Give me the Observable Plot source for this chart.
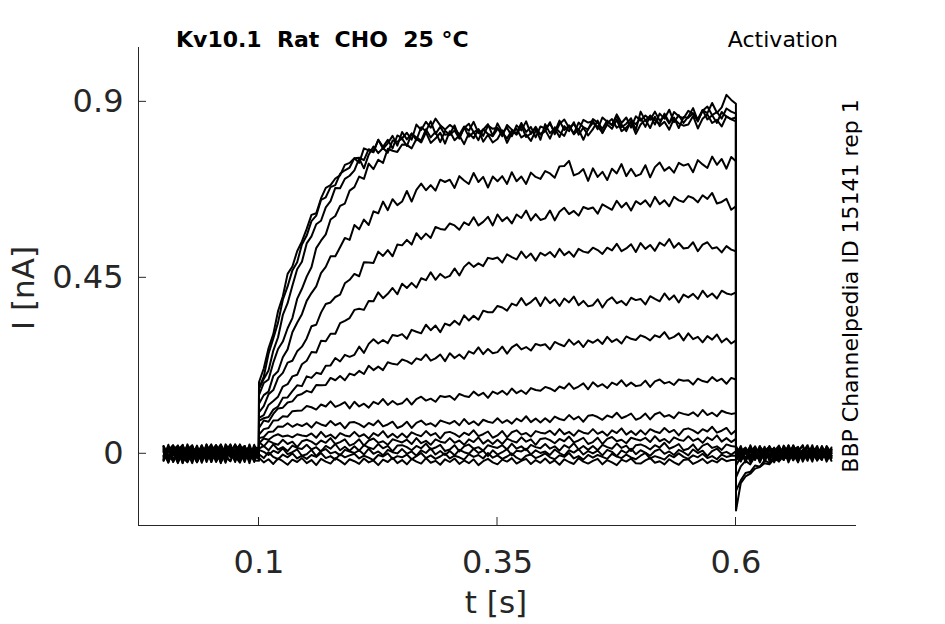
<!DOCTYPE html>
<html><head><meta charset="utf-8">
<script src="https://cdn.jsdelivr.net/npm/d3@7"></script>
<script src="https://cdn.jsdelivr.net/npm/@observablehq/plot@0.6"></script>
<style>body{margin:0;background:#fff;} svg{display:block}</style>
</head><body><div id="chart"></div>
<script>
// time grid (s): baseline (21), step 0.1–0.6 (101), tail (21)
const t = [0,0.005,0.01,0.015,0.02,0.025,0.03,0.035,0.04,0.045,0.05,0.055,0.06,0.065,0.07,0.075,0.08,0.085,0.09,0.095,0.0999,
0.1,0.105,0.11,0.115,0.12,0.125,0.13,0.135,0.14,0.145,
0.15,0.155,0.16,0.165,0.17,0.175,0.18,0.185,0.19,0.195,
0.2,0.205,0.21,0.215,0.22,0.225,0.23,0.235,0.24,0.245,
0.25,0.255,0.26,0.265,0.27,0.275,0.28,0.285,0.29,0.295,
0.3,0.305,0.31,0.315,0.32,0.325,0.33,0.335,0.34,0.345,
0.35,0.355,0.36,0.365,0.37,0.375,0.38,0.385,0.39,0.395,
0.4,0.405,0.41,0.415,0.42,0.425,0.43,0.435,0.44,0.445,
0.45,0.455,0.46,0.465,0.47,0.475,0.48,0.485,0.49,0.495,
0.5,0.505,0.51,0.515,0.52,0.525,0.53,0.535,0.54,0.545,
0.55,0.555,0.56,0.565,0.57,0.575,0.58,0.585,0.59,0.595,0.5999,
0.6,0.605,0.61,0.615,0.62,0.625,0.63,0.635,0.64,0.645,0.65,0.655,0.66,0.665,0.67,0.675,0.68,0.685,0.69,0.695,0.7];

// currents (nA), one array per voltage step: baseline | step | tail
const iA1 = [0.012,-0.018,0.006,0.021,-0.009,-0.022,0.003,0.015,-0.013,0.024,-0.004,0.009,-0.02,0.017,0.001,-0.015,0.011,0.02,-0.007,0.004,0.002,
0.183,0.218,0.27,0.306,0.365,0.403,0.46,0.479,0.518,0.543,
0.575,0.611,0.615,0.653,0.68,0.687,0.704,0.712,0.739,0.744,
0.756,0.744,0.781,0.776,0.771,0.803,0.785,0.803,0.781,0.814,
0.807,0.821,0.803,0.842,0.828,0.849,0.834,0.857,0.84,0.829,
0.841,0.832,0.816,0.837,0.826,0.849,0.82,0.829,0.843,0.813,
0.845,0.822,0.834,0.812,0.84,0.827,0.85,0.818,0.836,0.816,
0.825,0.848,0.817,0.843,0.855,0.834,0.843,0.827,0.854,0.847,
0.851,0.83,0.86,0.849,0.84,0.868,0.846,0.86,0.834,0.863,
0.852,0.865,0.854,0.875,0.852,0.864,0.845,0.874,0.863,0.858,
0.877,0.87,0.856,0.879,0.871,0.897,0.872,0.886,0.918,0.905,0.895,
-0.145,-0.075,-0.058,-0.051,-0.038,-0.034,-0.024,-0.027,-0.013,-0.019,-0.006,-0.014,0.003,-0.009,0.008,-0.004,0.011,-0.007,0.004,-0.012,0.006];
const iA2 = [-0.015,0.019,-0.004,0.008,-0.023,0.011,0.022,-0.012,0.002,-0.008,0.016,-0.019,0.009,-0.001,0.024,-0.01,0.005,-0.021,0.013,-0.003,-0.006,
0.168,0.197,0.256,0.295,0.336,0.394,0.428,0.469,0.49,0.535,
0.558,0.595,0.609,0.649,0.656,0.682,0.687,0.716,0.725,0.732,
0.756,0.757,0.751,0.779,0.774,0.803,0.78,0.794,0.813,0.788,
0.823,0.804,0.819,0.802,0.835,0.825,0.85,0.818,0.836,0.816,
0.818,0.84,0.808,0.833,0.844,0.822,0.83,0.813,0.839,0.831,
0.834,0.812,0.841,0.829,0.819,0.846,0.823,0.836,0.809,0.837,
0.832,0.844,0.823,0.852,0.828,0.839,0.819,0.847,0.835,0.829,
0.856,0.847,0.831,0.852,0.841,0.864,0.835,0.844,0.858,0.828,
0.875,0.852,0.864,0.842,0.87,0.857,0.88,0.848,0.866,0.846,
0.862,0.884,0.852,0.877,0.888,0.866,0.874,0.857,0.883,0.875,0.87,
-0.095,-0.068,-0.049,-0.046,-0.03,-0.033,-0.017,-0.023,-0.006,-0.015,0.002,-0.011,0.009,-0.005,-0.012,0.007,-0.003,0.012,-0.008,0.002,-0.005];
const iB = [0.018,-0.006,0.004,-0.024,0.013,-0.002,0.02,-0.016,-0.005,0.017,-0.021,0.007,0.014,-0.011,0.003,0.023,-0.017,0.001,-0.008,0.019,0.01,
0.166,0.191,0.213,0.264,0.298,0.355,0.385,0.43,0.472,0.491,
0.538,0.556,0.587,0.596,0.63,0.646,0.68,0.679,0.703,0.711,
0.725,0.755,0.73,0.765,0.786,0.769,0.782,0.77,0.801,0.798,
0.806,0.787,0.819,0.809,0.801,0.83,0.809,0.823,0.797,0.826,
0.815,0.827,0.806,0.835,0.811,0.822,0.802,0.83,0.818,0.812,
0.831,0.822,0.806,0.827,0.816,0.839,0.81,0.819,0.833,0.803,
0.843,0.82,0.832,0.81,0.838,0.825,0.848,0.816,0.834,0.814,
0.83,0.852,0.82,0.845,0.856,0.834,0.842,0.825,0.851,0.843,
0.858,0.836,0.865,0.853,0.843,0.87,0.847,0.86,0.833,0.861,
0.859,0.871,0.85,0.879,0.855,0.866,0.846,0.874,0.862,0.856,0.86,
-0.06,-0.032,-0.018,-0.027,-0.006,-0.015,0.004,-0.011,0.009,-0.004,-0.013,0.006,-0.008,0.012,-0.002,0.007,-0.014,0.003,0.01,-0.006,0.001];
const iC = [-0.004,0.014,-0.02,0.009,0.023,-0.012,0.002,-0.022,0.016,0.006,-0.009,0.021,-0.017,0.012,-0.002,0.008,0.022,-0.014,0.004,-0.018,0.005,
0.15,0.181,0.19,0.233,0.268,0.287,0.321,0.347,0.396,0.422,
0.453,0.477,0.526,0.545,0.561,0.599,0.608,0.634,0.64,0.673,
0.682,0.709,0.703,0.742,0.728,0.752,0.744,0.78,0.775,0.772,
0.791,0.79,0.781,0.805,0.796,0.822,0.795,0.806,0.821,0.793,
0.825,0.802,0.814,0.792,0.82,0.807,0.83,0.798,0.816,0.796,
0.805,0.827,0.795,0.82,0.831,0.809,0.817,0.8,0.826,0.818,
0.828,0.806,0.835,0.823,0.813,0.84,0.817,0.83,0.803,0.831,
0.846,0.837,0.821,0.842,0.831,0.854,0.825,0.834,0.848,0.818,
0.842,0.854,0.833,0.862,0.838,0.849,0.829,0.857,0.845,0.839,
0.842,0.864,0.832,0.857,0.868,0.846,0.854,0.837,0.863,0.855,0.85,
-0.03,-0.008,0.004,-0.014,0.009,-0.006,0.013,-0.011,0.002,0.015,-0.009,0.005,-0.016,0.008,0.001,-0.012,0.014,-0.004,0.006,-0.01,0.011];
const iD = [0.008,-0.019,0.012,0.02,-0.011,0.004,-0.024,0.014,-0.003,0.018,0.006,-0.013,0.022,-0.007,0.01,-0.021,0.016,0.0,-0.015,0.023,-0.008,
0.128,0.15,0.159,0.199,0.211,0.247,0.267,0.311,0.335,0.357,
0.391,0.411,0.428,0.462,0.478,0.505,0.505,0.528,0.552,0.547,
0.585,0.574,0.599,0.585,0.62,0.615,0.645,0.623,0.651,0.636,
0.645,0.672,0.645,0.675,0.691,0.674,0.687,0.673,0.701,0.695,
0.701,0.68,0.71,0.699,0.69,0.718,0.695,0.708,0.681,0.709,
0.697,0.71,0.69,0.72,0.697,0.709,0.69,0.719,0.708,0.703,
0.723,0.717,0.706,0.735,0.736,0.749,0.712,0.717,0.728,0.698,
0.73,0.708,0.721,0.7,0.729,0.717,0.741,0.71,0.729,0.71,
0.715,0.738,0.707,0.733,0.745,0.724,0.733,0.719,0.744,0.737,
0.741,0.72,0.751,0.74,0.731,0.76,0.739,0.754,0.729,0.759,0.748,
0.008,-0.016,0.013,-0.005,0.019,-0.012,0.003,0.016,-0.018,0.009,-0.002,0.021,-0.01,0.005,-0.014,0.018,0.0,-0.008,0.012,-0.02,0.004];
const iE = [-0.014,0.006,0.022,-0.009,0.016,-0.02,0.01,-0.002,0.019,-0.012,0.004,0.015,-0.022,0.008,0.018,-0.006,0.002,-0.017,0.024,-0.011,0.003,
0.106,0.122,0.152,0.163,0.194,0.207,0.233,0.238,0.262,0.274,
0.295,0.326,0.33,0.361,0.383,0.387,0.401,0.407,0.436,0.445,
0.46,0.454,0.49,0.489,0.488,0.517,0.506,0.521,0.505,0.535,
0.533,0.547,0.535,0.564,0.549,0.563,0.552,0.58,0.575,0.573,
0.589,0.584,0.573,0.592,0.585,0.605,0.584,0.593,0.606,0.584,
0.612,0.595,0.605,0.589,0.612,0.603,0.622,0.597,0.613,0.598,
0.602,0.622,0.597,0.619,0.629,0.613,0.621,0.609,0.631,0.626,
0.63,0.614,0.638,0.631,0.624,0.647,0.63,0.642,0.622,0.646,
0.638,0.648,0.632,0.657,0.638,0.648,0.633,0.657,0.648,0.644,
0.659,0.654,0.643,0.661,0.652,0.667,0.64,0.644,0.652,0.624,0.633,
-0.012,0.01,-0.019,0.015,0.002,-0.008,0.018,-0.014,0.006,0.021,-0.004,0.011,-0.017,0.008,0.019,-0.01,0.004,-0.016,0.014,0.0,-0.006];
const iF = [0.02,-0.007,-0.017,0.012,-0.004,0.018,0.008,-0.021,0.006,0.016,-0.012,0.0,0.022,-0.009,-0.019,0.01,0.004,0.02,-0.014,0.008,-0.012,
0.092,0.099,0.125,0.135,0.146,0.172,0.178,0.198,0.202,0.229,
0.238,0.26,0.259,0.289,0.288,0.307,0.307,0.334,0.34,0.347,
0.368,0.371,0.368,0.391,0.39,0.413,0.398,0.409,0.424,0.408,
0.435,0.424,0.437,0.425,0.449,0.444,0.464,0.445,0.46,0.45,
0.455,0.474,0.456,0.478,0.489,0.478,0.487,0.48,0.501,0.498,
0.502,0.489,0.51,0.503,0.497,0.517,0.501,0.512,0.494,0.514,
0.507,0.516,0.503,0.524,0.508,0.517,0.504,0.524,0.517,0.514,
0.527,0.521,0.511,0.527,0.52,0.537,0.518,0.525,0.536,0.516,
0.539,0.524,0.534,0.519,0.54,0.532,0.549,0.527,0.539,0.525,
0.527,0.541,0.518,0.535,0.541,0.525,0.528,0.515,0.531,0.522,0.518,
0.017,-0.004,0.012,-0.021,0.006,0.014,-0.01,0.02,-0.002,0.008,-0.016,0.004,0.018,-0.012,0.01,-0.006,0.022,-0.018,0.002,0.012,-0.008];
const iG = [-0.008,0.016,0.004,-0.019,0.022,-0.011,0.0,0.013,-0.023,0.009,0.018,-0.005,-0.015,0.024,0.006,-0.013,0.017,-0.002,0.011,-0.021,0.014,
0.084,0.091,0.094,0.113,0.121,0.143,0.144,0.16,0.175,0.173,
0.198,0.194,0.207,0.204,0.225,0.226,0.245,0.236,0.253,0.248,
0.253,0.274,0.258,0.281,0.293,0.282,0.291,0.283,0.304,0.301,
0.306,0.294,0.317,0.312,0.308,0.33,0.316,0.328,0.311,0.333,
0.328,0.34,0.33,0.354,0.341,0.353,0.343,0.366,0.362,0.362,
0.378,0.374,0.366,0.384,0.379,0.398,0.38,0.388,0.399,0.378,
0.4,0.385,0.395,0.378,0.397,0.387,0.402,0.38,0.391,0.377,
0.38,0.395,0.374,0.392,0.4,0.385,0.391,0.38,0.399,0.393,
0.396,0.382,0.403,0.396,0.39,0.41,0.394,0.405,0.387,0.407,
0.4,0.409,0.396,0.417,0.401,0.41,0.397,0.417,0.41,0.407,0.413,
-0.006,0.02,-0.014,0.004,0.012,-0.018,0.008,-0.004,0.016,-0.012,0.021,0.0,-0.008,0.014,-0.02,0.006,0.01,-0.002,-0.016,0.018,0.002];
const iH = [0.012,-0.021,0.018,0.002,-0.015,0.024,-0.006,0.01,-0.017,0.0,0.02,-0.011,0.006,-0.023,0.014,0.004,-0.009,0.019,-0.019,0.009,0.018,
0.066,0.085,0.082,0.102,0.116,0.118,0.131,0.134,0.149,0.153,
0.161,0.157,0.176,0.175,0.176,0.194,0.188,0.199,0.188,0.205,
0.201,0.212,0.204,0.225,0.214,0.223,0.214,0.234,0.23,0.228,
0.241,0.237,0.23,0.244,0.24,0.254,0.238,0.244,0.254,0.237,
0.257,0.245,0.254,0.243,0.262,0.256,0.272,0.255,0.268,0.257,
0.26,0.274,0.256,0.272,0.28,0.267,0.273,0.264,0.281,0.277,
0.28,0.267,0.286,0.28,0.275,0.292,0.279,0.288,0.273,0.29,
0.284,0.292,0.281,0.299,0.286,0.293,0.282,0.3,0.294,0.291,
0.303,0.298,0.29,0.303,0.298,0.311,0.294,0.299,0.308,0.29,
0.308,0.293,0.299,0.285,0.301,0.292,0.305,0.285,0.295,0.282,0.29,
0.012,-0.01,0.002,0.018,-0.016,0.008,-0.006,0.014,0.004,-0.02,0.01,-0.012,0.02,-0.004,0.006,-0.014,0.016,0.008,-0.01,0.002,0.012];
const iI = [-0.018,0.008,-0.004,0.021,-0.012,0.006,0.017,-0.01,0.022,-0.006,0.012,-0.021,0.002,0.018,-0.008,0.024,-0.014,0.004,0.015,-0.002,-0.014,
0.049,0.063,0.066,0.085,0.086,0.096,0.095,0.109,0.11,0.111,
0.122,0.119,0.113,0.126,0.121,0.134,0.12,0.125,0.132,0.116,
0.133,0.121,0.128,0.118,0.133,0.127,0.14,0.125,0.135,0.126,
0.129,0.141,0.126,0.14,0.146,0.136,0.141,0.133,0.148,0.145,
0.148,0.138,0.153,0.148,0.145,0.159,0.149,0.156,0.143,0.159,
0.153,0.161,0.151,0.167,0.155,0.162,0.153,0.168,0.163,0.161,
0.171,0.167,0.16,0.172,0.167,0.18,0.166,0.172,0.18,0.165,
0.183,0.172,0.178,0.168,0.182,0.176,0.188,0.173,0.182,0.173,
0.175,0.187,0.171,0.185,0.19,0.18,0.184,0.176,0.19,0.187,
0.188,0.177,0.192,0.186,0.183,0.196,0.186,0.192,0.179,0.194,0.19,
-0.018,0.006,0.016,-0.008,0.01,-0.022,0.012,0.0,-0.014,0.018,-0.006,0.008,0.014,-0.018,0.004,0.022,-0.012,0.006,-0.004,0.016,-0.01];
const iJ = [0.006,-0.013,0.019,-0.022,0.004,0.015,-0.008,0.021,-0.015,0.011,-0.002,0.017,-0.019,0.008,0.023,-0.011,0.0,0.013,-0.024,0.019,0.0,
0.04,0.043,0.056,0.057,0.07,0.069,0.078,0.069,0.076,0.071,
0.078,0.067,0.081,0.075,0.071,0.084,0.073,0.079,0.065,0.08,
0.081,0.076,0.068,0.079,0.073,0.085,0.07,0.075,0.082,0.066,
0.071,0.082,0.066,0.079,0.085,0.074,0.078,0.07,0.085,0.081,
0.077,0.084,0.073,0.089,0.076,0.083,0.073,0.087,0.082,0.079,
0.091,0.079,0.086,0.077,0.09,0.083,0.096,0.081,0.09,0.08,
0.091,0.081,0.095,0.089,0.086,0.099,0.088,0.095,0.082,0.097,
0.099,0.094,0.087,0.098,0.093,0.105,0.091,0.096,0.103,0.087,
0.092,0.103,0.088,0.101,0.106,0.095,0.099,0.091,0.106,0.102,
0.099,0.106,0.096,0.112,0.099,0.105,0.096,0.11,0.105,0.102,0.104,
0.004,0.016,-0.012,0.008,-0.006,0.02,-0.018,0.01,0.002,-0.01,0.014,-0.022,0.006,0.016,-0.008,0.0,0.012,-0.016,0.02,-0.004,0.008];
const iK = [-0.011,0.023,-0.016,0.008,0.019,-0.006,0.012,-0.021,0.004,0.017,-0.013,0.006,0.024,-0.004,-0.019,0.01,0.021,-0.009,0.002,0.015,-0.004,
0.027,0.039,0.036,0.045,0.05,0.044,0.047,0.042,0.05,0.047,
0.045,0.052,0.041,0.056,0.043,0.049,0.039,0.053,0.047,0.044,
0.056,0.044,0.05,0.039,0.053,0.046,0.058,0.042,0.051,0.041,
0.052,0.041,0.055,0.049,0.045,0.058,0.047,0.053,0.039,0.054,
0.056,0.051,0.043,0.054,0.048,0.06,0.045,0.05,0.057,0.041,
0.047,0.058,0.042,0.055,0.06,0.049,0.053,0.044,0.058,0.054,
0.052,0.059,0.048,0.063,0.05,0.056,0.046,0.06,0.054,0.051,
0.063,0.051,0.057,0.046,0.06,0.053,0.065,0.049,0.058,0.048,
0.06,0.049,0.063,0.057,0.053,0.066,0.055,0.061,0.047,0.062,
0.065,0.06,0.052,0.063,0.057,0.069,0.054,0.059,0.066,0.05,0.06,
-0.008,-0.02,0.01,0.004,0.018,-0.012,0.002,0.014,-0.006,0.008,-0.016,0.022,-0.004,0.01,-0.014,0.006,-0.02,0.016,0.0,0.012,-0.012];
const iL = [0.015,-0.004,0.011,-0.019,-0.002,0.021,-0.015,0.006,0.013,-0.021,0.008,0.022,-0.011,0.0,0.017,-0.006,-0.023,0.012,0.004,-0.013,0.008,
0.03,0.019,0.033,0.027,0.023,0.036,0.025,0.031,0.017,0.032,
0.036,0.031,0.023,0.034,0.028,0.04,0.025,0.03,0.037,0.021,
0.026,0.037,0.021,0.034,0.039,0.028,0.032,0.023,0.037,0.033,
0.029,0.036,0.025,0.04,0.027,0.033,0.023,0.037,0.031,0.028,
0.04,0.028,0.034,0.023,0.037,0.03,0.042,0.026,0.035,0.025,
0.036,0.025,0.039,0.033,0.029,0.042,0.031,0.037,0.023,0.038,
0.04,0.035,0.027,0.038,0.032,0.044,0.029,0.034,0.041,0.025,
0.03,0.041,0.025,0.038,0.043,0.032,0.036,0.027,0.041,0.037,
0.034,0.041,0.03,0.045,0.032,0.038,0.028,0.042,0.036,0.033,
0.045,0.033,0.039,0.028,0.042,0.035,0.047,0.031,0.04,0.03,0.038,
0.014,0.0,-0.016,0.022,-0.008,0.006,0.012,-0.018,0.01,-0.004,0.018,-0.012,0.002,-0.022,0.008,0.016,-0.006,0.004,-0.014,0.02,0.0];
const iM = [-0.017,0.01,0.021,-0.008,0.006,-0.019,0.018,0.002,-0.012,0.023,-0.004,0.013,-0.021,0.008,0.015,-0.011,0.024,-0.002,-0.017,0.006,-0.002,
0.013,0.02,0.009,0.024,0.011,0.017,0.007,0.021,0.015,0.012,
0.023,0.011,0.017,0.006,0.02,0.013,0.025,0.009,0.018,0.008,
0.019,0.008,0.022,0.016,0.012,0.025,0.014,0.02,0.006,0.021,
0.022,0.017,0.009,0.02,0.014,0.026,0.011,0.016,0.023,0.007,
0.011,0.022,0.006,0.019,0.024,0.013,0.017,0.008,0.022,0.018,
0.015,0.022,0.011,0.026,0.013,0.019,0.009,0.023,0.017,0.014,
0.025,0.013,0.019,0.008,0.022,0.015,0.027,0.011,0.02,0.01,
0.02,0.009,0.023,0.017,0.013,0.026,0.015,0.021,0.007,0.022,
0.024,0.019,0.011,0.022,0.016,0.028,0.013,0.018,0.025,0.009,
0.013,0.024,0.008,0.021,0.026,0.015,0.019,0.01,0.024,0.02,0.018,
-0.014,0.012,0.004,-0.01,0.016,-0.02,0.008,0.018,-0.004,0.012,0.0,-0.014,0.022,-0.008,0.004,-0.018,0.014,-0.002,0.01,-0.012,0.016];
const iN = [0.004,-0.023,0.012,0.017,-0.013,0.002,-0.008,0.019,-0.019,0.006,0.024,-0.006,0.011,-0.015,0.021,0.0,-0.021,0.008,0.017,-0.01,0.016,
0.01,0.005,-0.003,0.008,0.002,0.014,-0.001,0.004,0.011,-0.005,
-0.001,0.01,-0.006,0.007,0.012,0.001,0.005,-0.004,0.01,0.006,
0.002,0.009,-0.002,0.013,0.0,0.006,-0.004,0.01,0.004,0.001,
0.012,0.0,0.006,-0.005,0.009,0.002,0.014,-0.002,0.007,-0.003,
0.007,-0.004,0.01,0.004,0.0,0.013,0.002,0.008,-0.006,0.009,
-0.002,0.004,0.012,-0.004,0.008,0.006,0.013,-0.002,0.009,0.002,
0.006,-0.003,0.011,0.002,-0.005,0.009,0.003,0.012,-0.002,0.007,
0.001,0.008,-0.004,0.01,0.005,-0.006,0.009,0.002,0.013,-0.001,
0.009,0.003,-0.005,0.007,0.012,0.0,0.006,-0.003,0.01,0.004,
-0.004,0.011,0.002,0.008,-0.006,0.007,0.013,0.001,0.005,-0.002,0.006,
0.02,-0.008,0.006,-0.018,0.012,0.002,-0.012,0.016,-0.022,0.004,0.014,-0.006,0.01,0.018,-0.016,0.008,-0.002,0.02,-0.01,0.006,-0.018];
const iO = [-0.006,0.019,-0.021,0.004,0.015,-0.012,0.008,-0.004,0.021,-0.017,0.002,0.013,-0.024,0.016,-0.008,0.023,0.006,-0.015,0.011,-0.002,0.01,
-0.001,-0.011,0.004,-0.008,-0.014,-0.002,-0.009,0.001,-0.012,-0.005,
-0.013,-0.003,-0.008,0.002,-0.011,-0.006,-0.015,-0.001,-0.009,-0.004,
0.0,-0.012,-0.005,-0.01,-0.016,-0.003,-0.007,0.001,-0.013,-0.006,
-0.009,-0.002,-0.014,-0.006,0.002,-0.011,-0.004,-0.013,-0.007,0.001,
-0.012,-0.005,-0.009,-0.015,-0.001,-0.008,-0.003,-0.012,0.002,-0.01,
-0.004,-0.013,-0.007,0.001,-0.01,-0.016,-0.005,-0.002,-0.011,-0.006,
0.001,-0.009,-0.014,-0.004,-0.008,0.002,-0.012,-0.006,-0.015,-0.003,
-0.01,-0.003,-0.008,-0.013,0.0,-0.007,-0.011,-0.002,-0.009,-0.014,
-0.005,0.002,-0.012,-0.006,-0.01,-0.015,-0.003,-0.009,0.001,-0.008,
-0.013,-0.004,-0.009,0.0,-0.011,-0.006,-0.014,-0.002,-0.008,-0.005,-0.005,
-0.004,0.014,-0.022,0.01,-0.012,0.018,0.004,-0.008,0.012,-0.018,0.002,0.016,-0.01,0.006,0.022,-0.014,0.008,-0.004,0.018,-0.016,0.01];
const iP = [0.019,-0.015,0.002,0.013,-0.024,0.017,-0.011,0.004,-0.006,0.015,-0.021,0.022,0.0,-0.013,0.008,-0.019,0.021,-0.004,0.011,-0.017,-0.018,
-0.01,-0.022,-0.014,-0.026,-0.012,-0.019,-0.028,-0.015,-0.021,-0.011,
-0.024,-0.016,-0.029,-0.013,-0.02,-0.025,-0.011,-0.018,-0.027,-0.014,
-0.019,-0.026,-0.012,-0.022,-0.017,-0.029,-0.015,-0.021,-0.01,-0.024,
-0.016,-0.027,-0.013,-0.02,-0.025,-0.011,-0.023,-0.018,-0.028,-0.014,
-0.021,-0.012,-0.026,-0.017,-0.024,-0.014,-0.029,-0.019,-0.013,-0.022,
-0.027,-0.015,-0.02,-0.011,-0.025,-0.018,-0.013,-0.026,-0.016,-0.023,
-0.012,-0.024,-0.017,-0.028,-0.014,-0.021,-0.026,-0.011,-0.02,-0.025,
-0.018,-0.013,-0.027,-0.016,-0.022,-0.029,-0.015,-0.02,-0.012,-0.024,
-0.025,-0.017,-0.011,-0.023,-0.019,-0.027,-0.014,-0.022,-0.028,-0.016,
-0.014,-0.026,-0.02,-0.013,-0.024,-0.017,-0.022,-0.012,-0.019,-0.016,-0.015,
0.01,-0.018,0.002,0.016,-0.006,0.012,-0.02,0.008,0.014,-0.01,0.004,-0.016,0.02,-0.002,0.01,-0.012,0.018,-0.008,0.006,0.014,-0.004];

const traces = [iP, iO, iN, iM, iL, iK, iJ, iI, iH, iG, iF, iE, iD, iC, iB, iA2, iA1];

const xTicks = [0.1, 0.35, 0.6];
const yTicks = [0, 0.45, 0.9];
const xDomain = [-0.0263, 0.7263];
const yDomain = [-0.1834, 1.039];
const titleText = "Kv10.1  Rat  CHO  25 °C";
const protocolText = "Activation";
const sideText = "BBP Channelpedia ID 15141 rep 1";
const xLabel = "t [s]";
const yLabel = "I [nA]";

traces.forEach((a, k) => { if (a.length !== t.length) console.warn("trace", k, a.length, t.length); });
const rows = traces.flatMap((vals, k) => vals.map((v, i) => ({trace: k, t: t[i], I: v})));

const ink = "#262626";
const plot = Plot.plot({
  width: 945, height: 624,
  marginLeft: 138, marginRight: 89, marginTop: 47, marginBottom: 99,
  x: {domain: xDomain},
  y: {domain: yDomain},
  style: {fontFamily: "DejaVu Sans", color: ink, background: "white", overflow: "visible"},
  marks: [
    Plot.ruleX([xDomain[0]], {stroke: ink, strokeWidth: 1}),
    Plot.ruleY([yDomain[0]], {stroke: ink, strokeWidth: 1}),
    Plot.axisX(xTicks, {tickSize: 0, tickPadding: 25, fontSize: 32, label: null, tickFormat: d => String(d)}),
    Plot.axisY(yTicks, {tickSize: 0, tickPadding: 15, fontSize: 32, label: null, tickFormat: d => String(d)}),
    Plot.line(rows, {x: "t", y: "I", z: "trace", stroke: "black", strokeWidth: 2, strokeLinejoin: "round"})
  ]
});
document.getElementById("chart").appendChild(plot);

const sx = plot.scale("x"), sy = plot.scale("y");
const svg = d3.select(plot);
const x0 = sx.apply(xDomain[0]), y0 = sy.apply(yDomain[0]);
xTicks.forEach(v => svg.append("line")
  .attr("x1", sx.apply(v)).attr("x2", sx.apply(v))
  .attr("y1", y0).attr("y2", y0 - 8).attr("stroke", ink).attr("stroke-width", 1));
yTicks.forEach(v => svg.append("line")
  .attr("x1", x0).attr("x2", x0 + 8)
  .attr("y1", sy.apply(v)).attr("y2", sy.apply(v)).attr("stroke", ink).attr("stroke-width", 1));

function addText(str, x, y, opts) {
  const el = svg.append("text").text(str)
    .attr("x", x).attr("y", y)
    .attr("fill", opts.fill || "black")
    .attr("font-family", "DejaVu Sans")
    .attr("font-size", opts.size)
    .attr("font-weight", opts.weight || "normal")
    .attr("text-anchor", opts.anchor || "start")
    .style("white-space", "pre");
  if (opts.rotate) el.attr("transform", `rotate(${opts.rotate},${x},${y})`);
  return el;
}
addText(titleText, 176, 47, {size: 22, weight: "bold"});
addText(protocolText, 838, 47, {size: 22, anchor: "end"});
addText(sideText, 858, 286, {size: 22, anchor: "middle", rotate: -90});
addText(xLabel, 496, 613, {size: 31, anchor: "middle", fill: ink});
addText(yLabel, 34, 288, {size: 31, anchor: "middle", rotate: -90, fill: ink});
</script>
</body></html>
